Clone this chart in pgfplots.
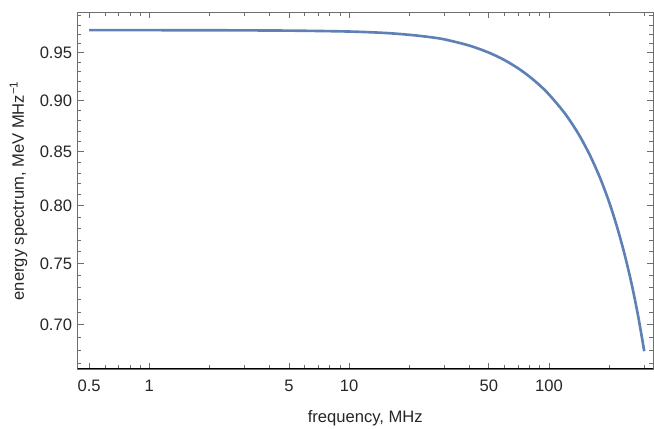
\documentclass[border=0pt]{standalone}
\usepackage{fontspec}
\setmainfont{Liberation Sans}
\usepackage{pgfplots}
\pgfplotsset{compat=1.18}

\definecolor{mmablue}{RGB}{94,129,181}
\definecolor{framegray}{RGB}{110,110,110}

\pgfplotstableread{
f      e
0.5    0.9742
1      0.9742
2      0.9741
5      0.9737
10     0.9727
15     0.9712
20     0.9692
25     0.9668
30     0.9642
40     0.9575
50     0.9500
60     0.9420
70     0.9335
80     0.9247
90     0.9157
100    0.9065
120    0.8875
140    0.8677
160    0.8471
180    0.8257
200    0.8035
220    0.7805
240    0.7567
260    0.7321
280    0.7064
300    0.6795
}\spectrum

\begin{document}
\begin{tikzpicture}
\begin{axis}[
    scale only axis,
    width=371.2pt, height=230.1pt,
    xmode=log, ymode=log,
    xmin=0.4371, xmax=331.9,
    ymin=0.6661, ymax=0.9940,
    xtick={0.5,1,5,10,50,100},
    xticklabels={0.5,1,5,10,50,100},
    minor xtick={0.6,0.7,0.8,0.9,2,3,4,6,7,8,9,20,30,40,60,70,80,90,200,300},
    ytick={0.70,0.75,0.80,0.85,0.90,0.95},
    yticklabels={0.70,0.75,0.80,0.85,0.90,0.95},
    minor ytick={0.67,0.68,0.69,0.71,0.72,0.73,0.74,0.76,0.77,0.78,0.79,
                 0.81,0.82,0.83,0.84,0.86,0.87,0.88,0.89,0.91,0.92,0.93,0.94,
                 0.96,0.97,0.98,0.99},
    tick align=inside,
    major tick length=3.9pt,
    minor tick length=2.3pt,
    tick style={framegray, line width=0.5pt},
    axis line style={framegray, line width=0.6pt},
    ticklabel style={text=black!85, font=\fontsize{10.7}{13}\selectfont},
    label style={font=\fontsize{10.7}{13}\selectfont},
    xticklabel style={yshift=-3.6pt},
    xlabel={frequency, MHz},
    ylabel={energy spectrum, MeV MHz\textsuperscript{−1}},
    xlabel style={at={(axis description cs:0.5,0)}, anchor=center, yshift=-31.6pt, text=black!85},
    ylabel style={at={(axis description cs:-0.1026,0.5)}, anchor=center, text=black!85},
    clip=true,
]
\addplot[color=mmablue, line width=1.7pt, smooth, tension=0.5] table[x=f, y=e] {\spectrum};
\draw[black, line width=0.8pt] (rel axis cs:0,0) -- (rel axis cs:1,0);
\coordinate (ll) at (rel axis cs:0,0);
\coordinate (ur) at (rel axis cs:1,1);
\end{axis}
\pgfresetboundingbox
\path ([shift={(-50pt,-38.1pt)}]ll) rectangle ([shift={(0.65pt,7.9pt)}]ur);
\end{tikzpicture}
\end{document}
